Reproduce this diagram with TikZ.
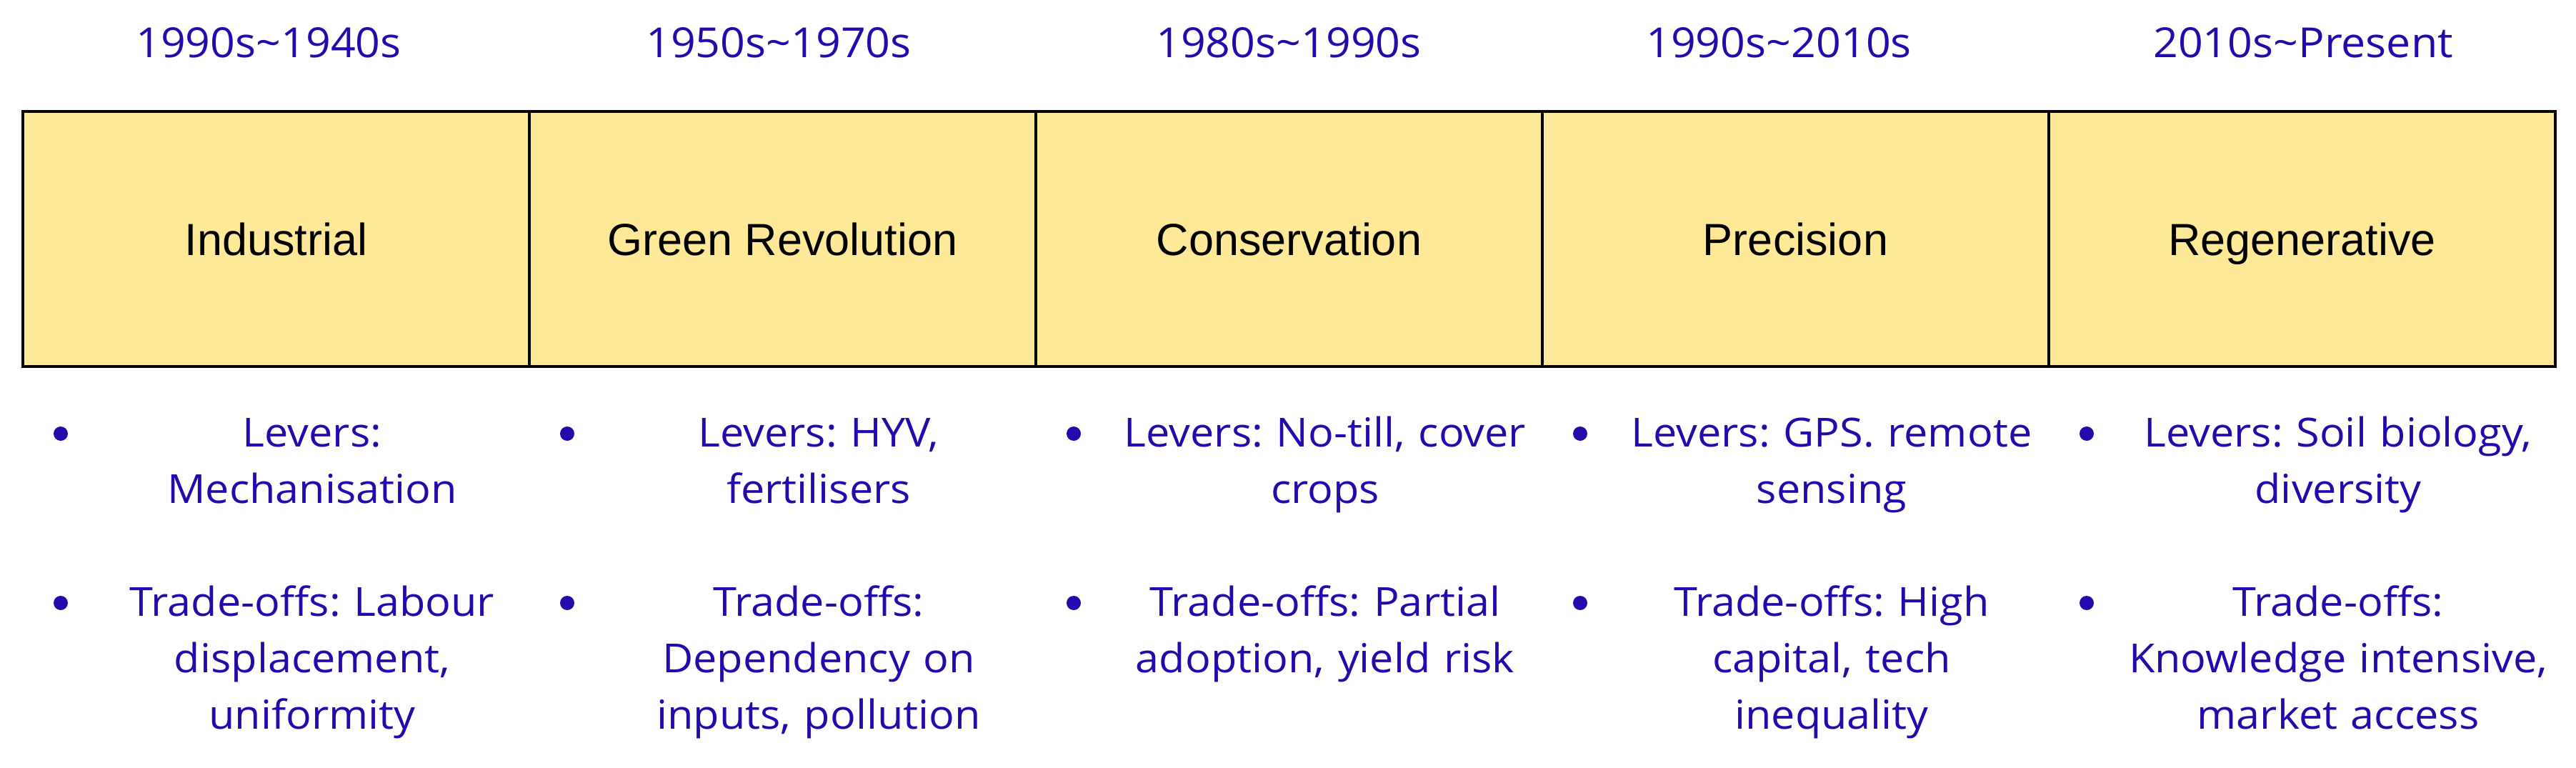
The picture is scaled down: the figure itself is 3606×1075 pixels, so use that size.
\documentclass[tikz,border=0pt]{standalone}
\usepackage{fontspec}
\setmainfont{Liberation Sans}
\newfontfamily\opensans[FakeStretch=1.06]{Open Sans}
\newfontfamily\opensansd[FakeStretch=1.05]{Open Sans}
\frenchspacing
\definecolor{txtblue}{RGB}{34,10,172}
\definecolor{erafill}{RGB}{254,233,153}
\begin{document}
\begin{tikzpicture}[x=1pt,y=-1pt,
  eracell/.style={draw=black, line width=4pt, fill=erafill, minimum width=709pt, minimum height=357pt,
    inner sep=0pt, text height=45pt, text depth=0pt, font=\fontsize{63}{70}\selectfont, text=black},
  datelabel/.style={font=\opensansd\frenchspacing\fontsize{58}{70}\selectfont, text=txtblue, inner sep=0pt, anchor=base},
  itemtext/.style={font=\opensans\frenchspacing\fontsize{56}{79}\selectfont, text=txtblue, align=center, text width=660pt, inner sep=0pt, anchor=base},
  dot/.style={circle, fill=txtblue, inner sep=0pt, minimum size=20pt}]
\useasboundingbox (0,0) rectangle (3606,1075);
\fill[white] (0,0) rectangle (3606,1075);
% dates
\node[datelabel] (d1) at (376,81) {1990s\char"007E 1940s};
\node[datelabel] (d2) at (1090,81) {1950s\char"007E 1970s};
\node[datelabel] (d3) at (1804,81) {1980s\char"007E 1990s};
\node[datelabel] (d4) at (2490,81) {1990s\char"007E 2010s};
\node[datelabel] (d5) at (3224,81) {2010s\char"007E Present};
% boxes
\node[eracell] (b1) at (386.5,334.5) {Industrial};
\node[eracell] (b2) at (1095.5,334.5) {Green Revolution};
\node[eracell] (b3) at (1804.5,334.5) {Conservation};
\node[eracell] (b4) at (2513.5,334.5) {Precision};
\node[eracell] (b5) at (3222.5,334.5) {Regenerative};
% bullets
\node[dot] (p1a) at (85,607) {};
\node[dot] (p1b) at (85,844) {};
\node[dot] (p2a) at (794,607) {};
\node[dot] (p2b) at (794,844) {};
\node[dot] (p3a) at (1503,607) {};
\node[dot] (p3b) at (1503,844) {};
\node[dot] (p4a) at (2212,607) {};
\node[dot] (p4b) at (2212,844) {};
\node[dot] (p5a) at (2921,607) {};
\node[dot] (p5b) at (2921,844) {};
% items
\node[itemtext] (l1) at (437,625) {Levers:\\Mechanisation};
\node[itemtext] (t1) at (437,862) {Trade-offs: Labour\\displacement,\\uniformity};
\node[itemtext] (l2) at (1146,625) {Levers: HYV,\\fertilisers};
\node[itemtext] (t2) at (1146,862) {Trade-offs:\\Dependency on\\inputs, pollution};
\node[itemtext] (l3) at (1855,625) {Levers: No-till, cover\\crops};
\node[itemtext] (t3) at (1855,862) {Trade-offs: Partial\\adoption, yield risk};
\node[itemtext] (l4) at (2564,625) {Levers: GPS. remote\\sensing};
\node[itemtext] (t4) at (2564,862) {Trade-offs: High\\capital, tech\\inequality};
\node[itemtext] (l5) at (3273,625) {Levers: Soil biology,\\diversity};
\node[itemtext] (t5) at (3273,862) {Trade-offs:\\Knowledge intensive,\\market access};
\end{tikzpicture}
\end{document}
